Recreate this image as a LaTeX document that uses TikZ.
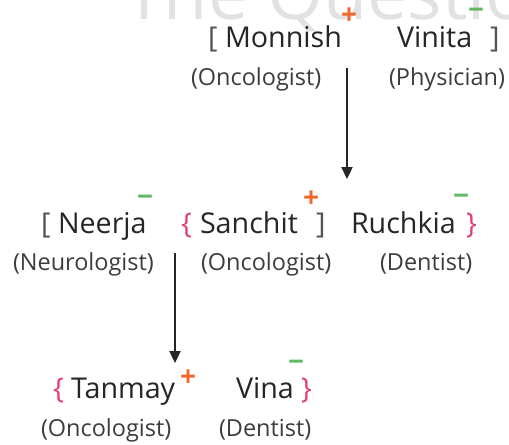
\documentclass[tikz,border=0pt]{standalone}
\usepackage{fontspec}
\setmainfont{Open Sans}
\usetikzlibrary{arrows.meta}
\definecolor{orng}{HTML}{F0682A}
\definecolor{grn}{HTML}{62B866}
\definecolor{pnk}{HTML}{E23E6E}
\definecolor{brk}{HTML}{555555}
\definecolor{txt}{HTML}{262626}
\definecolor{wmc}{HTML}{E2E2E2}
\tikzset{
  every node/.style={inner sep=0pt, outer sep=0pt},
  nm/.style={anchor=base west, text=txt, font=\fontsize{21.5}{26}\selectfont},
  lab/.style={anchor=base west, text=txt!90, font=\fontsize{17.6}{21}\selectfont},
  gbr/.style={anchor=base west, text=brk, font=\fontsize{21.5}{26}\selectfont},
  pbr/.style={anchor=base west, text=pnk, font=\fontsize{21.5}{26}\selectfont},
  plus/.style={anchor=center, text=orng, font=\fontsize{21}{26}\selectfont\bfseries},
  minus/.style={anchor=center, text=grn, font=\fontsize{21}{26}\selectfont\bfseries},
  wm/.style={anchor=base west, text=wmc, font=\fontsize{54}{60}\selectfont},
  arr/.style={draw=black!85, line width=0.8pt, -{Triangle[length=9pt,width=8.5pt]}}
}
\begin{document}
\begin{tikzpicture}[x=0.75pt,y=-0.75pt]
\useasboundingbox (0,0) rectangle (509,444);
\clip (0,0) rectangle (509,444);
% watermark
\node[wm] (wm) at (124,19) {The Questio};
% row 1
\node[gbr] (b1l) at (208,47) {[};
\node[nm] (m) at (225,47) {Monnish};
\node[plus] (mp) at (349,16) {+};
\node[nm] (v) at (397,47) {Vinita};
\node[minus] (vm) at (476,14) {−};
\node[gbr] (b1r) at (490,47) {]};
\node[lab] (ml) at (191,85) {(Oncologist)};
\node[lab] (vl) at (389,85) {(Physician)};
% row 2
\node[gbr] (b2l) at (41,233) {[};
\node[nm] (n) at (58,233) {Neerja};
\node[minus] (nm2) at (145,201) {−};
\node[pbr] (c2l) at (181,233) {\{};
\node[nm] (s) at (200,233) {Sanchit};
\node[plus] (sp) at (311,199) {+};
\node[gbr] (b2r) at (316,233) {]};
\node[nm] (r) at (351,233) {Ruchkia};
\node[minus] (rm) at (461,200) {−};
\node[pbr] (c2r) at (466,233) {\}};
\node[lab] (nl) at (13,270) {(Neurologist)};
\node[lab] (sl) at (201,270) {(Oncologist)};
\node[lab] (rl) at (380,270) {(Dentist)};
% row 3
\node[pbr] (c3l) at (53,398) {\{};
\node[nm] (t) at (71,398) {Tanmay};
\node[plus] (tp) at (188,378) {+};
\node[nm] (vi) at (236,398) {Vina};
\node[minus] (vim) at (296,366) {−};
\node[pbr] (c3r) at (301,398) {\}};
\node[lab] (tl) at (41,436) {(Oncologist)};
\node[lab] (vil) at (219,436) {(Dentist)};
% arrows
\coordinate (a1s) at (347,68);
\coordinate (a1e) at (347,179);
\coordinate (a2s) at (175,253);
\coordinate (a2e) at (175,363);
\draw[arr] (a1s) -- (a1e);
\draw[arr] (a2s) -- (a2e);
\end{tikzpicture}
\end{document}
